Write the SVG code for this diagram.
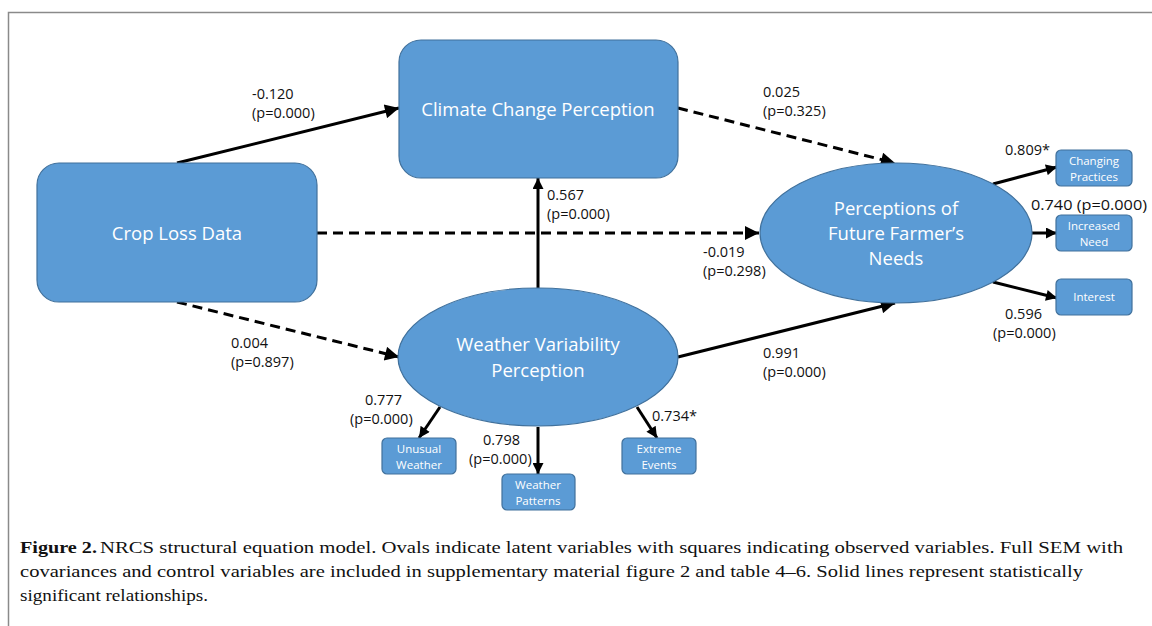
<svg xmlns="http://www.w3.org/2000/svg" width="1152" height="626" viewBox="0 0 1152 626">
<defs>
<style>
.node{fill:#5B9BD5;stroke:#41719C;stroke-width:1.2}
.big{font-family:"Open Sans","Liberation Sans",sans-serif;font-size:18.5px;fill:#fff;text-anchor:middle}
.small{font-family:"Open Sans","Liberation Sans",sans-serif;font-size:11.5px;fill:#fff;text-anchor:middle}
.lbl{font-family:"Open Sans","Liberation Sans",sans-serif;font-size:14.5px;fill:#111}
.cap{font-family:"Liberation Serif",serif;font-size:17px;fill:#111}
.c{stroke:#000;stroke-width:3;fill:none}
.d{stroke-dasharray:10 6}
</style>
<marker id="ah" viewBox="0 0 10 10" refX="10" refY="5" markerUnits="userSpaceOnUse" markerWidth="16" markerHeight="14" orient="auto">
<path d="M0,0 L10,5 L0,10 z" fill="#000"/>
</marker>
<marker id="as" viewBox="0 0 10 10" refX="10" refY="5" markerUnits="userSpaceOnUse" markerWidth="12" markerHeight="11" orient="auto">
<path d="M0,0 L10,5 L0,10 z" fill="#000"/>
</marker>
</defs>
<rect width="1152" height="626" fill="#fff"/>
<path d="M8.5,626 V12.5 H1152" fill="none" stroke="#8a8a8a" stroke-width="1.5"/>

<g id="connectors">
<line class="c" x1="177" y1="163" x2="399" y2="108" marker-end="url(#ah)"/>
<line class="c d" x1="317" y1="233" x2="759" y2="233" marker-end="url(#ah)"/>
<line class="c d" x1="177" y1="302" x2="399" y2="357" marker-end="url(#ah)"/>
<line class="c d" x1="678" y1="108" x2="895" y2="163" marker-end="url(#ah)"/>
<line class="c" x1="538" y1="288" x2="538" y2="178" marker-end="url(#as)"/>
<line class="c" x1="678" y1="357" x2="895" y2="303" marker-end="url(#ah)"/>
<line class="c" x1="993" y1="184" x2="1057" y2="167" marker-end="url(#as)"/>
<line class="c" x1="1032" y1="233" x2="1057" y2="233" marker-end="url(#as)"/>
<line class="c" x1="993" y1="282" x2="1057" y2="298" marker-end="url(#as)"/>
<line class="c" x1="440" y1="407" x2="419" y2="438" marker-end="url(#as)"/>
<line class="c" x1="538" y1="427" x2="538" y2="474" marker-end="url(#as)"/>
<line class="c" x1="637" y1="407" x2="657" y2="438" marker-end="url(#as)"/>
</g>

<g id="crop-loss">
<rect class="node" x="37" y="163" width="280" height="139" rx="22"/>
<text class="big" x="177" y="240">Crop Loss Data</text>
</g>
<g id="climate-change">
<rect class="node" x="399" y="40" width="279" height="138" rx="22"/>
<text class="big" x="538" y="116">Climate Change Perception</text>
</g>
<g id="future-needs">
<ellipse class="node" cx="896" cy="233" rx="136" ry="70"/>
<text class="big" x="896" y="215">Perceptions of</text>
<text class="big" x="896" y="240">Future Farmer’s</text>
<text class="big" x="896" y="265">Needs</text>
</g>
<g id="weather-variability">
<ellipse class="node" cx="538" cy="357" rx="140" ry="69"/>
<text class="big" x="538" y="351">Weather Variability</text>
<text class="big" x="538" y="377">Perception</text>
</g>
<g id="changing-practices">
<rect class="node" x="1056" y="150" width="76" height="36" rx="5"/>
<text class="small" x="1094" y="165">Changing</text>
<text class="small" x="1094" y="181">Practices</text>
</g>
<g id="increased-need">
<rect class="node" x="1056" y="215" width="76" height="36" rx="5"/>
<text class="small" x="1094" y="230">Increased</text>
<text class="small" x="1094" y="246">Need</text>
</g>
<g id="interest">
<rect class="node" x="1056" y="279" width="76" height="36" rx="5"/>
<text class="small" x="1094" y="301">Interest</text>
</g>
<g id="unusual-weather">
<rect class="node" x="382" y="438" width="74" height="36" rx="5"/>
<text class="small" x="419" y="453">Unusual</text>
<text class="small" x="419" y="469">Weather</text>
</g>
<g id="weather-patterns">
<rect class="node" x="502" y="474" width="73" height="36" rx="5"/>
<text class="small" x="538" y="489">Weather</text>
<text class="small" x="538" y="505">Patterns</text>
</g>
<g id="extreme-events">
<rect class="node" x="622" y="438" width="74" height="36" rx="5"/>
<text class="small" x="659" y="453">Extreme</text>
<text class="small" x="659" y="469">Events</text>
</g>

<g id="labels">
<text class="lbl" x="252" y="99">-0.120</text>
<text class="lbl" x="252" y="118">(p=0.000)</text>
<text class="lbl" x="763" y="97">0.025</text>
<text class="lbl" x="763" y="116">(p=0.325)</text>
<text class="lbl" x="547" y="200">0.567</text>
<text class="lbl" x="547" y="219">(p=0.000)</text>
<text class="lbl" x="703" y="257">-0.019</text>
<text class="lbl" x="703" y="276">(p=0.298)</text>
<text class="lbl" x="231" y="348">0.004</text>
<text class="lbl" x="231" y="367">(p=0.897)</text>
<text class="lbl" x="763" y="358">0.991</text>
<text class="lbl" x="763" y="377">(p=0.000)</text>
<text class="lbl" x="1005" y="155">0.809*</text>
<text class="lbl" x="1031" y="210" textLength="116" lengthAdjust="spacingAndGlyphs">0.740 (p=0.000)</text>
<text class="lbl" x="1005" y="319">0.596</text>
<text class="lbl" x="993" y="338">(p=0.000)</text>
<text class="lbl" x="365" y="405">0.777</text>
<text class="lbl" x="350" y="424">(p=0.000)</text>
<text class="lbl" x="483" y="445">0.798</text>
<text class="lbl" x="469" y="464">(p=0.000)</text>
<text class="lbl" x="652" y="421">0.734*</text>
</g>

<g id="caption">
<text class="cap" x="20" y="553" font-weight="bold" textLength="77" lengthAdjust="spacingAndGlyphs">Figure 2.</text>
<text class="cap" x="100" y="553" textLength="1023" lengthAdjust="spacingAndGlyphs">NRCS structural equation model. Ovals indicate latent variables with squares indicating observed variables. Full SEM with</text>
<text class="cap" x="20" y="577" textLength="1063" lengthAdjust="spacingAndGlyphs">covariances and control variables are included in supplementary material figure 2 and table 4–6. Solid lines represent statistically</text>
<text class="cap" x="20" y="601" textLength="188" lengthAdjust="spacingAndGlyphs">significant relationships.</text>
</g>
</svg>
